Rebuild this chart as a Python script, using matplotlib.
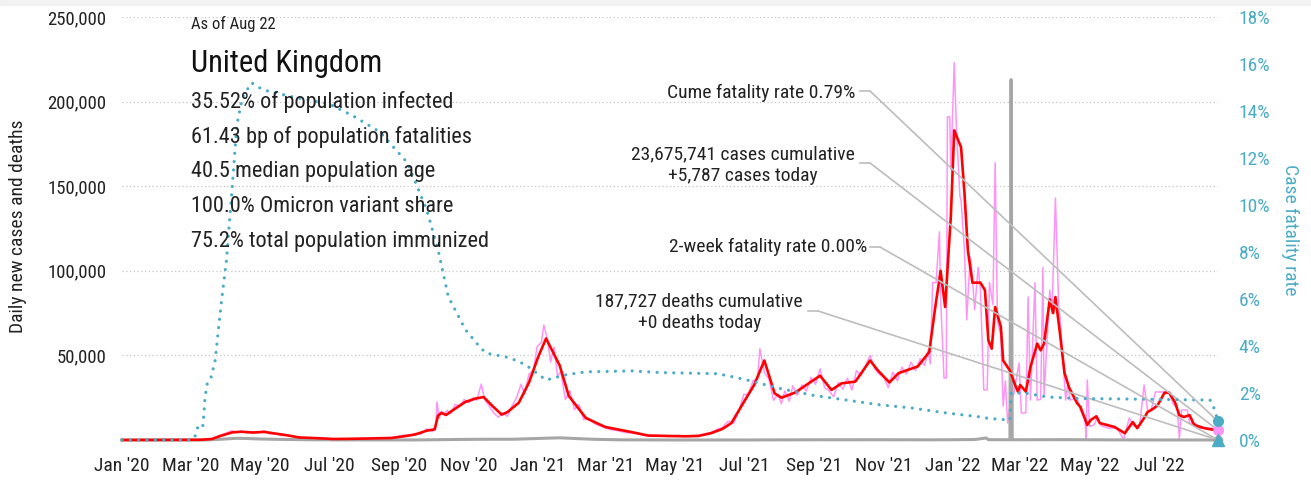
import matplotlib
matplotlib.use("Agg")
import matplotlib.pyplot as plt
import matplotlib.dates as mdates
import numpy as np
import pandas as pd
from matplotlib import font_manager
from matplotlib.lines import Line2D
from matplotlib.patches import Rectangle
from matplotlib.ticker import FuncFormatter, MultipleLocator

# the original uses a narrow sans; take one if the box has it
_fonts = font_manager.fontManager.ttflist
_names = {f.name for f in _fonts}
NARROW = None
for cand in ["Liberation Sans Narrow", "Roboto Condensed", "Open Sans Condensed",
             "Noto Sans Condensed", "DejaVu Sans Condensed", "Arial Narrow"]:
    if cand in _names:
        NARROW = (cand, "normal")
        break
if NARROW is None:
    for f in _fonts:
        if f.stretch in ("condensed", "semi-condensed") and f.style == "normal" and "Mono" not in f.name \
                and "Serif" not in f.name and "CJK" not in f.name:
            NARROW = (f.name, f.stretch)
            break
if NARROW:
    plt.rcParams["font.family"] = [NARROW[0], "DejaVu Sans"]
    plt.rcParams["font.stretch"] = NARROW[1]
    FS = 1.0
else:
    plt.rcParams["font.family"] = ["Liberation Sans", "DejaVu Sans"]
    FS = 0.86

TEAL = "#4bacc6"
PINK = "#ff94f7"
RED = "#ff0000"
GRAY = "#a6a6a6"
LINE = "#bdbdbd"

# daily new cases, raw (thousands)
raw_dates = [
    "2020-01-01", "2020-03-10", "2020-03-20", "2020-03-28", "2020-04-03", "2020-04-07", "2020-04-10",
    "2020-04-15", "2020-04-20", "2020-04-25", "2020-04-30", "2020-05-05", "2020-05-10", "2020-05-15",
    "2020-05-20", "2020-05-25", "2020-06-01", "2020-06-08", "2020-06-20", "2020-07-05", "2020-07-20",
    "2020-08-05", "2020-08-25", "2020-09-05", "2020-09-10", "2020-09-15", "2020-09-20", "2020-09-25",
    "2020-09-30", "2020-10-03", "2020-10-04", "2020-10-06", "2020-10-08", "2020-10-10", "2020-10-13",
    "2020-10-16", "2020-10-20", "2020-10-24", "2020-10-28", "2020-11-01", "2020-11-05", "2020-11-08",
    "2020-11-12", "2020-11-15", "2020-11-19", "2020-11-23", "2020-11-27", "2020-12-01", "2020-12-05",
    "2020-12-09", "2020-12-13", "2020-12-17", "2020-12-20", "2020-12-24", "2020-12-28", "2020-12-31",
    "2021-01-04", "2021-01-06", "2021-01-09", "2021-01-12", "2021-01-15", "2021-01-18", "2021-01-21",
    "2021-01-25", "2021-01-29", "2021-02-02", "2021-02-06", "2021-02-10", "2021-02-14", "2021-02-20",
    "2021-02-26", "2021-03-05", "2021-03-12", "2021-03-20", "2021-03-28", "2021-04-05", "2021-04-15",
    "2021-04-25", "2021-05-05", "2021-05-15", "2021-05-25", "2021-06-02", "2021-06-08", "2021-06-12",
    "2021-06-17", "2021-06-22", "2021-06-27", "2021-07-01", "2021-07-05", "2021-07-09", "2021-07-13",
    "2021-07-15", "2021-07-19", "2021-07-23", "2021-07-27", "2021-07-31", "2021-08-03", "2021-08-06",
    "2021-08-10", "2021-08-13", "2021-08-17", "2021-08-21", "2021-08-25", "2021-08-29", "2021-09-02",
    "2021-09-06", "2021-09-10", "2021-09-14", "2021-09-18", "2021-09-22", "2021-09-26", "2021-09-30",
    "2021-10-04", "2021-10-08", "2021-10-12", "2021-10-16", "2021-10-20", "2021-10-24", "2021-10-28",
    "2021-11-01", "2021-11-05", "2021-11-09", "2021-11-13", "2021-11-17", "2021-11-21", "2021-11-25",
    "2021-11-29", "2021-12-03", "2021-12-07", "2021-12-10", "2021-12-12", "2021-12-14", "2021-12-17",
    "2021-12-20", "2021-12-21", "2021-12-24", "2021-12-26", "2021-12-27", "2021-12-29", "2021-12-30",
    "2022-01-02", "2022-01-04", "2022-01-07", "2022-01-08", "2022-01-11", "2022-01-13", "2022-01-16",
    "2022-01-17", "2022-01-20", "2022-01-23", "2022-01-25", "2022-01-28", "2022-01-31", "2022-02-02",
    "2022-02-05", "2022-02-07", "2022-02-09", "2022-02-12", "2022-02-14", "2022-02-16", "2022-02-18",
    "2022-02-21", "2022-02-23", "2022-02-28", "2022-03-02", "2022-03-06", "2022-03-08", "2022-03-10",
    "2022-03-14", "2022-03-16", "2022-03-19", "2022-03-21", "2022-03-22", "2022-03-27", "2022-03-29",
    "2022-04-01", "2022-04-04", "2022-04-05", "2022-04-10", "2022-04-12", "2022-04-14", "2022-04-20",
    "2022-04-23", "2022-04-27", "2022-04-28", "2022-04-29", "2022-05-01", "2022-05-05", "2022-05-08",
    "2022-05-11", "2022-05-18", "2022-05-25", "2022-05-31", "2022-06-05", "2022-06-09", "2022-06-14",
    "2022-06-18", "2022-06-21", "2022-06-24", "2022-06-28", "2022-07-05", "2022-07-10", "2022-07-14",
    "2022-07-17", "2022-07-19", "2022-07-21", "2022-07-26", "2022-07-28", "2022-08-02", "2022-08-05",
    "2022-08-17", "2022-08-22",
]
raw_cases = [
    0, 0.1, 0.7, 2.9, 4.5, 5.5, 4.3,
    5.3, 4.2, 5.0, 4.3, 5.4, 3.6, 3.7,
    2.6, 2.9, 1.6, 1.3, 1.0, 0.5, 0.8,
    0.9, 1.3, 2.9, 2.5, 3.9, 3.4, 6.6,
    5.0, 7.0, 22.5, 13.0, 17.0, 15.2, 17.5,
    15.6, 21, 20, 24, 22, 25, 23.5,
    33, 24, 20, 16, 13.5, 16, 14,
    20, 25, 33, 27, 39, 41, 55,
    58, 68, 60, 46, 55, 38, 40,
    24, 29, 18, 21, 12, 13, 9.5,
    8, 6.2, 5.5, 4.3, 4.0, 2.5, 2.9,
    2.0, 2.7, 2.0, 3.2, 4.5, 6.5, 7.3,
    11, 10, 18, 27, 27, 35, 36,
    54, 40, 36, 23.5, 27, 21.5, 29,
    23, 32, 26.5, 32.5, 29, 37, 33,
    42, 31, 29, 25.5, 34, 30, 36.5,
    29.5, 41, 38, 44, 50, 42, 39,
    37, 31, 40, 35, 43, 39, 46,
    41, 48, 44, 53, 45, 93, 93,
    123, 84, 36.6, 36.6, 191, 191, 160,
    223, 183, 144, 142, 112, 71, 108,
    104, 77, 102, 89, 29.6, 29.6, 93,
    80, 164, 70, 62, 20, 35, 10,
    25.6, 26, 45.5, 16, 16, 84.5, 23.6,
    93, 23.6, 24, 102, 25.6, 88.6, 75,
    143, 77, 73, 23.6, 33.5, 23.6, 25,
    17.7, 12, 1, 35.5, 8, 9, 13.6,
    8.5, 7, 7, 0.5, 13, 8, 8.5,
    32.5, 17.7, 17, 28.4, 28.4, 28, 20.7,
    20.7, 0.5, 17.7, 17.7, 10, 10, 7,
    7, 5.8,
]

# 7-day average of new cases (thousands)
avg_dates = [
    "2020-01-01", "2020-03-10", "2020-03-20", "2020-03-28", "2020-04-07", "2020-04-15", "2020-04-25",
    "2020-05-05", "2020-05-15", "2020-05-25", "2020-06-05", "2020-06-20", "2020-07-05", "2020-07-20",
    "2020-08-05", "2020-08-25", "2020-09-05", "2020-09-15", "2020-09-25", "2020-10-02", "2020-10-05",
    "2020-10-08", "2020-10-12", "2020-10-20", "2020-10-29", "2020-11-07", "2020-11-14", "2020-11-22",
    "2020-11-30", "2020-12-05", "2020-12-15", "2020-12-24", "2021-01-01", "2021-01-08", "2021-01-14",
    "2021-01-20", "2021-01-28", "2021-02-12", "2021-03-01", "2021-03-24", "2021-04-08", "2021-04-25",
    "2021-05-10", "2021-05-22", "2021-06-02", "2021-06-12", "2021-06-20", "2021-07-02", "2021-07-10",
    "2021-07-19", "2021-07-28", "2021-08-03", "2021-08-15", "2021-08-27", "2021-09-06", "2021-09-16",
    "2021-09-25", "2021-10-07", "2021-10-20", "2021-10-27", "2021-11-06", "2021-11-14", "2021-12-01",
    "2021-12-11", "2021-12-16", "2021-12-21", "2021-12-25", "2021-12-30", "2022-01-02", "2022-01-08",
    "2022-01-11", "2022-01-14", "2022-01-18", "2022-01-25", "2022-01-29", "2022-02-01", "2022-02-04",
    "2022-02-07", "2022-02-12", "2022-02-14", "2022-02-20", "2022-02-24", "2022-02-27", "2022-03-01",
    "2022-03-06", "2022-03-10", "2022-03-16", "2022-03-19", "2022-03-22", "2022-03-27", "2022-03-30",
    "2022-04-01", "2022-04-05", "2022-04-09", "2022-04-13", "2022-04-20", "2022-04-23", "2022-04-29",
    "2022-05-02", "2022-05-07", "2022-05-10", "2022-05-23", "2022-06-01", "2022-06-08", "2022-06-12",
    "2022-06-18", "2022-06-21", "2022-06-27", "2022-06-30", "2022-07-06", "2022-07-10", "2022-07-15",
    "2022-07-19", "2022-07-23", "2022-07-28", "2022-08-01", "2022-08-10", "2022-08-19", "2022-08-22",
]
avg_cases = [
    0, 0.1, 0.6, 2.5, 4.5, 4.9, 4.4,
    4.8, 3.8, 2.8, 1.5, 1.1, 0.6, 0.7,
    0.9, 1.2, 2.2, 3.3, 5.5, 6.3, 14.5,
    16.0, 14.8, 18.5, 22.5, 24.5, 25.4, 20,
    15, 16.5, 22, 34, 49, 60, 52,
    44, 26, 13, 7.7, 4.7, 2.6, 2.4,
    2.2, 2.4, 4, 6.5, 10, 23.6, 32.5,
    47, 27.6, 25, 28, 33.5, 38, 29.6,
    33.5, 34.5, 47, 41, 34, 39.5, 43.5,
    52, 77, 100, 78.6, 132, 183, 173,
    146, 112, 93, 93, 88.6, 59, 54,
    78.6, 67, 47, 41, 33.5, 28.6, 32.5,
    28.6, 43, 57, 53, 57, 83, 75,
    84.5, 63, 39.6, 31, 21.8, 19.5, 8.9,
    11.8, 14, 10, 7.7, 4, 10.6, 7,
    13, 16.5, 18.9, 20.7, 28, 28, 22.5,
    14.7, 13.6, 14.7, 8.9, 7, 5.9, 5.6,
]

# daily new deaths (thousands)
death_dates = [
    "2020-01-01", "2020-03-15", "2020-04-01", "2020-04-10", "2020-04-20", "2020-05-01", "2020-05-20",
    "2020-06-15", "2020-07-15", "2020-09-15", "2020-10-20", "2020-11-15", "2020-12-10", "2021-01-10",
    "2021-01-20", "2021-02-05", "2021-02-20", "2021-03-15", "2021-05-01", "2021-07-01", "2021-08-01",
    "2021-09-15", "2021-11-01", "2021-12-15", "2022-01-20", "2022-01-30", "2022-02-01", "2022-02-20",
    "2022-02-21", "2022-02-22", "2022-04-10", "2022-06-01", "2022-08-22",
]
deaths = [
    0, 0.02, 0.6, 1.0, 0.9, 0.6, 0.35,
    0.15, 0.05, 0.03, 0.3, 0.45, 0.45, 1.1,
    1.3, 0.8, 0.4, 0.1, 0.01, 0.02, 0.08,
    0.14, 0.15, 0.1, 0.27, 1.2, 0.2, 0.15,
    213, 0.15, 0.2, 0.05, 0,
]

# case fatality rate (%)
cfr_dates = [
    "2020-01-01", "2020-03-02", "2020-03-05", "2020-03-08", "2020-03-12", "2020-03-13", "2020-03-14",
    "2020-03-16", "2020-03-19", "2020-03-23", "2020-03-26", "2020-03-28", "2020-04-02", "2020-04-07",
    "2020-04-11", "2020-04-16", "2020-04-24", "2020-05-04", "2020-05-30", "2020-07-01", "2020-07-22",
    "2020-08-15", "2020-09-08", "2020-09-25", "2020-10-05", "2020-10-14", "2020-10-29", "2020-11-10",
    "2020-11-16", "2020-12-07", "2020-12-21", "2021-01-08", "2021-01-25", "2021-02-12", "2021-03-25",
    "2021-04-18", "2021-06-08", "2021-06-20", "2021-07-04", "2021-08-01", "2021-08-31", "2021-09-29",
    "2021-10-28", "2021-11-26", "2021-12-26", "2022-01-22", "2022-02-01", "2022-02-20", "2022-02-21",
    "2022-03-05", "2022-03-25", "2022-04-23", "2022-05-23", "2022-08-15", "2022-08-19", "2022-08-22",
]
cfr = [
    0, 0, 0.13, 0.6, 0.55, 1.1, 1.8,
    2.4, 2.6, 3.4, 4.8, 5.7, 7.7, 10.8,
    13.4, 14.6, 15.2, 14.9, 14.6, 14.3, 13.8,
    13.1, 11.8, 9.8, 8.1, 6.1, 4.7, 4.0,
    3.7, 3.5, 3.2, 2.55, 2.77, 2.9, 2.94,
    2.87, 2.82, 2.7, 2.55, 2.2, 1.9, 1.7,
    1.5, 1.36, 1.15, 1.0, 0.92, 0.85, 2.0,
    2.0, 1.83, 1.76, 1.75, 1.7, 1.3, 0.79,
]

last_day = "2022-08-22"
cases_today = 5.787
deaths_today = 0
cume_cfr = 0.79
two_week_cfr = 0.00

month_ticks = ["2020-01-01", "2020-03-01", "2020-05-01", "2020-07-01", "2020-09-01", "2020-11-01",
               "2021-01-01", "2021-03-01", "2021-05-01", "2021-07-01", "2021-09-01", "2021-11-01",
               "2022-01-01", "2022-03-01", "2022-05-01", "2022-07-01"]

info_lines = [
    "35.52% of population infected",
    "61.43 bp of population fatalities",
    "40.5 median population age",
    "100.0% Omicron variant share",
    "75.2% total population immunized",
]

W, H = 1311, 480
fig = plt.figure(figsize=(W / 100, H / 100), dpi=100)
fig.patches.append(Rectangle((0, 1 - 5 / H), 1, 5 / H, transform=fig.transFigure,
                             color="#f2f2f2", zorder=0))

ax = fig.add_axes([122 / W, 1 - 440 / H, 1096 / W, 423 / H])
ax2 = ax.twinx()

to_dt = pd.to_datetime
ax.plot(to_dt(raw_dates), np.array(raw_cases) * 1000, color=PINK, lw=1.1, zorder=2, clip_on=False)
ax.plot(to_dt(death_dates), np.array(deaths) * 1000, color=GRAY, lw=2.2, zorder=3, clip_on=False)
ax.plot(to_dt(avg_dates), np.array(avg_cases) * 1000, color=RED, lw=1.9, zorder=4, clip_on=False)
ax2.plot(to_dt(cfr_dates), cfr, color=TEAL, lw=2.3, linestyle=(0, (0.01, 2.6)),
         dash_capstyle="round", zorder=3, clip_on=False)

end = to_dt(last_day)
ax2.plot([end], [cume_cfr], "o", color=TEAL, ms=7, clip_on=False, zorder=6)
ax.plot([end], [cases_today * 1000], "o", color=PINK, ms=7, clip_on=False, zorder=6)
ax.plot([end], [deaths_today], "o", color=GRAY, ms=6, clip_on=False, zorder=6)
ax2.plot([end], [two_week_cfr], "^", color=TEAL, ms=8, clip_on=False, zorder=7)

ax.set_xlim(to_dt("2020-01-01"), end)
ax.set_ylim(0, 250000)
ax2.set_ylim(0, 18)

ax.set_xticks(to_dt(month_ticks))
ax.xaxis.set_major_formatter(mdates.DateFormatter("%b '%y"))
ax.set_yticks([50000, 100000, 150000, 200000, 250000])
ax.yaxis.set_major_formatter(FuncFormatter(lambda v, p: f"{int(v):,}"))
ax.grid(axis="y", linestyle=(0, (1, 2)), color="#c4c4c4", lw=0.9)
ax.set_axisbelow(True)
ax2.yaxis.set_major_locator(MultipleLocator(2))
ax2.yaxis.set_major_formatter(FuncFormatter(lambda v, p: f"{int(round(v))}%"))

for a in (ax, ax2):
    for s in a.spines.values():
        s.set_visible(False)
ax.tick_params(axis="both", length=0, labelsize=14 * FS, colors="#222222")
ax.tick_params(axis="x", pad=12)
ax.tick_params(axis="y", pad=11, labelsize=13.5 * FS)
ax2.tick_params(axis="y", length=0, labelsize=14 * FS, colors=TEAL, pad=15)

fig.text(18 / W, 1 - 226 / H, "Daily new cases and deaths", fontsize=14 * FS, color="#222222",
         rotation=90, ha="center", va="center")
fig.text(1290 / W, 1 - 230 / H, "Case fatality rate", fontsize=14 * FS, color=TEAL,
         rotation=270, ha="center", va="center")

# country block
fig.text(191 / W, 1 - 24 / H, "As of Aug 22", fontsize=12 * FS, va="center", color="#222222")
fig.text(191 / W, 1 - 64 / H, "United Kingdom", fontsize=22 * FS, va="center", color="#111111")
for i, line in enumerate(info_lines):
    fig.text(191 / W, 1 - (102 + 35 * i) / H, line, fontsize=16 * FS, va="center", color="#222222")

# annotation callouts
callouts = [
    ("Cume fatality rate 0.79%", 855, 93, 91, 860, 870, ax2, cume_cfr),
    ("23,675,741 cases cumulative\n+5,787 cases today", 855, 165, 163, 860, 870, ax, cases_today * 1000),
    ("2-week fatality rate 0.00%", 867, 247, 247, 870, 880, ax2, two_week_cfr),
    ("187,727 deaths cumulative\n+0 deaths today", 803, 312, 311, 808, 818, ax, deaths_today),
]
for label, tx, ty, ly, sx0, sx1, a, yv in callouts:
    fig.text(tx / W, 1 - ty / H, label, fontsize=14 * FS, ha="right", va="center",
             multialignment="center", color="#222222", linespacing=1.25)
    fig.add_artist(Line2D([sx0 / W, sx1 / W], [1 - ly / H, 1 - ly / H], transform=fig.transFigure,
                          color=LINE, lw=1.2))
    a.annotate("", xy=(end, yv), xycoords="data", xytext=(sx1 / W, 1 - ly / H),
               textcoords="figure fraction",
               arrowprops=dict(arrowstyle="-", color=LINE, lw=1.2, shrinkA=0, shrinkB=0),
               zorder=5, annotation_clip=False)

fig.savefig("out.png", dpi=100)
